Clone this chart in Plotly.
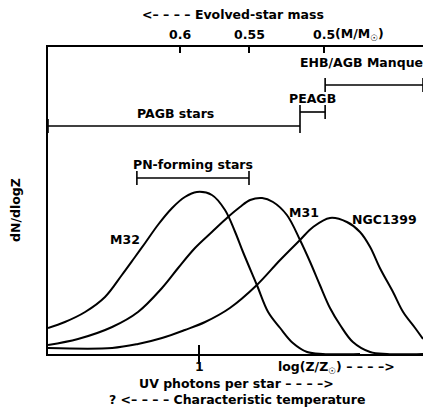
import plotly.graph_objects as go

# ---- data (arbitrary units: x ~ log(Z/Zsun) scale, y ~ dN/dlogZ) ----
m32_x = [0, 0.45, 0.99, 1.52, 1.97, 2.32, 2.59, 2.93, 3.31, 3.65, 3.97, 4.37, 4.72, 4.99,
         5.2, 5.57, 5.87, 6.19, 6.53, 6.91, 7.33, 8.32]
m32_y = [0.26, 0.32, 0.42, 0.57, 0.79, 0.97, 1.11, 1.29, 1.46, 1.57, 1.62, 1.59, 1.44, 1.22,
         1.02, 0.69, 0.42, 0.26, 0.11, 0.02, 0.0, 0.0]

m31_x = [0, 0.8, 1.71, 2.4, 3.04, 3.47, 3.92, 4.37, 4.8, 5.12, 5.39, 5.71, 6.0, 6.37, 6.72,
         6.99, 7.25, 7.52, 7.79, 8.13, 8.59, 9.04, 10.0]
m31_y = [0.09, 0.15, 0.27, 0.42, 0.66, 0.86, 1.06, 1.22, 1.37, 1.47, 1.54, 1.56, 1.52, 1.39, 1.14,
         0.92, 0.69, 0.46, 0.29, 0.12, 0.02, 0.0, 0.0]

n1399_x = [0, 1.71, 2.4, 3.04, 3.65, 4.19, 4.85, 5.57, 6.19, 6.72, 7.07, 7.52, 7.97, 8.32,
           8.59, 8.85, 9.2, 9.47, 9.79, 10.0]
n1399_y = [0.06, 0.06, 0.10, 0.16, 0.24, 0.32, 0.46, 0.69, 0.94, 1.14, 1.27, 1.36, 1.32, 1.22,
           1.07, 0.86, 0.62, 0.42, 0.26, 0.15]

curve_names = ["M32", "M31", "NGC1399"]
label_pos_x = [2.51, 6.37, 8.05]
label_pos_y = [1.15, 1.42, 1.35]
label_anchor = ["right", "left", "left"]

# range bars
bar_labels = ["EHB/AGB Manque", "PEAGB", "PAGB stars", "PN-forming stars"]
bar_x0 = [7.39, 6.72, 0.0, 2.37]
bar_x1 = [10.0, 7.39, 6.72, 5.36]
bar_y = [2.69, 2.42, 2.28, 1.76]
bar_text_x = [10.05, 7.04, 3.39, 3.87]
bar_text_y = [2.92, 2.56, 2.41, 1.90]
bar_text_anchor = ["right", "center", "center", "center"]

# top axis: evolved-star mass
mass_tick_x = [3.52, 5.36, 7.36]
mass_tick_text = ["0.6", "0.55", "0.5"]

# bottom axis
z_tick_x = [4.03]
z_tick_text = ["1"]

XR = [0, 10]
YR = [0, 3.07]
FONT = "DejaVu Sans"
FS = 12.5
CAP = 0.07
ARL = "<– – – –"
ARR = "– – – –>"

fig = go.Figure()
for xs, ys, nm in zip([m32_x, m31_x, n1399_x], [m32_y, m31_y, n1399_y], curve_names):
    fig.add_trace(go.Scatter(x=xs, y=ys, mode="lines", name=nm,
                             line=dict(color="black", width=2, shape="spline", smoothing=1.0),
                             showlegend=False, hoverinfo="skip"))

for x0, x1, y in zip(bar_x0, bar_x1, bar_y):
    fig.add_trace(go.Scatter(x=[x0, x0, None, x0, x1, None, x1, x1],
                             y=[y - CAP, y + CAP, None, y, y, None, y - CAP, y + CAP],
                             mode="lines", line=dict(color="black", width=1.6),
                             showlegend=False, hoverinfo="skip", cliponaxis=False))

fig.add_trace(go.Scatter(x=[None], y=[None], xaxis="x2", showlegend=False))
fig.add_trace(go.Scatter(x=[None], y=[None], xaxis="x3", showlegend=False))


def px_x(p):
    return (p - 48) / 375


def px_y(p):
    return (354 - p) / 307


ann = []
for t, x, y, a in zip(curve_names, label_pos_x, label_pos_y, label_anchor):
    ann.append(dict(x=x, y=y, text=t, showarrow=False, xanchor=a, yanchor="middle"))
for t, x, y, a in zip(bar_labels, bar_text_x, bar_text_y, bar_text_anchor):
    ann.append(dict(x=(x - XR[0]) / (XR[1] - XR[0]), xref="paper", y=y, text=t,
                    showarrow=False, xanchor=a, yanchor="middle"))
for x, t in zip(mass_tick_x, mass_tick_text):
    ann.append(dict(x=x, y=px_y(35), yref="paper", text=t, showarrow=False,
                    xanchor="center", yanchor="middle"))
ann.append(dict(x=mass_tick_x[-1], xshift=9, y=px_y(35), yref="paper", text="(M/M<sub>☉</sub>)",
                showarrow=False, xanchor="left", yanchor="middle"))
for x, t in zip(z_tick_x, z_tick_text):
    ann.append(dict(x=x, y=px_y(366), yref="paper", text=t, showarrow=False,
                    xanchor="center", yanchor="middle"))
ann.append(dict(x=px_x(233), xref="paper", y=px_y(15), yref="paper",
                text=ARL + " Evolved-star mass", showarrow=False, xanchor="center", yanchor="middle"))
ann.append(dict(x=px_x(336), xref="paper", y=px_y(367), yref="paper",
                text="log(Z/Z<sub>☉</sub>) " + ARR, showarrow=False, xanchor="center", yanchor="middle"))
ann.append(dict(x=px_x(236), xref="paper", y=px_y(383), yref="paper",
                text="UV photons per star " + ARR, showarrow=False, xanchor="center", yanchor="middle"))
ann.append(dict(x=px_x(237), xref="paper", y=px_y(399), yref="paper",
                text="? " + ARL + " Characteristic temperature", showarrow=False,
                xanchor="center", yanchor="middle"))
ann.append(dict(x=px_x(15), xref="paper", y=px_y(210), yref="paper",
                text="dN/dlogZ", textangle=-90, showarrow=False, xanchor="center", yanchor="middle"))

fig.update_layout(
    width=425, height=410,
    margin=dict(l=48, r=2, t=47, b=56, autoexpand=False),
    paper_bgcolor="white", plot_bgcolor="white",
    font=dict(family=FONT, size=FS, color="black", weight="bold"),
    xaxis=dict(range=XR, showgrid=False, zeroline=False, showline=True, linecolor="black",
               linewidth=2, ticks="outside", ticklen=8, tickwidth=2, tickcolor="black",
               tickvals=z_tick_x, showticklabels=False),
    xaxis2=dict(range=XR, overlaying="x", side="top", anchor="y", showgrid=False, zeroline=False,
                showline=True, linecolor="black", linewidth=2, ticks="inside", ticklen=6,
                tickwidth=1.5, tickcolor="black", tickvals=mass_tick_x, showticklabels=False),
    xaxis3=dict(range=XR, overlaying="x", side="bottom", anchor="y", showgrid=False, zeroline=False,
                showline=False, ticks="inside", ticklen=9, tickwidth=2, tickcolor="black",
                tickvals=z_tick_x, showticklabels=False),
    yaxis=dict(range=YR, showgrid=False, zeroline=False, showline=True, linecolor="black",
               linewidth=2, showticklabels=False, ticks=""),
    annotations=ann,
)

fig.write_html("out.html", config={"displayModeBar": False},
               post_script="document.body.style.margin='0';document.body.style.padding='0';"
                           "document.body.style.overflow='hidden';")
